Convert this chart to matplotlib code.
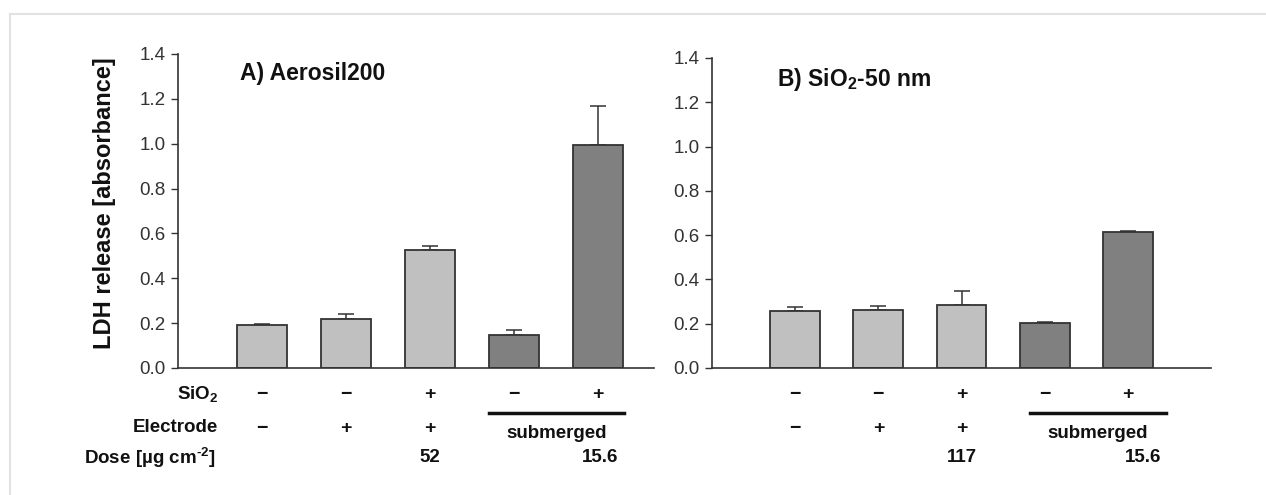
import numpy as np
import matplotlib
matplotlib.use("Agg")
import matplotlib.pyplot as plt
from matplotlib.lines import Line2D
import matplotlib.transforms as mtransforms

plt.rcParams['font.family'] = ['Liberation Sans', 'DejaVu Sans']
plt.rcParams['mathtext.fontset'] = 'custom'
plt.rcParams['mathtext.rm'] = 'Liberation Sans'
plt.rcParams['mathtext.bf'] = 'Liberation Sans:bold'

# data
conditions = ['ctrl', 'electrode', 'electrode+SiO2', 'submerged', 'submerged+SiO2']
aerosil_mean = [0.192, 0.219, 0.528, 0.148, 0.994]
aerosil_err = [0.006, 0.022, 0.015, 0.022, 0.172]
sio2_mean = [0.259, 0.260, 0.286, 0.203, 0.614]
sio2_err = [0.016, 0.022, 0.063, 0.006, 0.006]
bar_colors = ['#c0c0c0', '#c0c0c0', '#c0c0c0', '#808080', '#808080']

sio2_row = ['\u2212', '\u2212', '+', '\u2212', '+']
electrode_row = ['\u2212', '+', '+']
dose_a = '52'
dose_b = '117'
dose_sub = '15.6'

W, H = 1266, 495
fig = plt.figure(figsize=(W / 100, H / 100), dpi=100)

# light frame of the screenshot
fig.add_artist(Line2D([10 / W, 1], [1 - 14 / H, 1 - 14 / H], color='#e2e2e2', lw=1.5))
fig.add_artist(Line2D([10 / W, 10 / W], [0, 1 - 14 / H], color='#e2e2e2', lw=1.5))

edge = '#333333'


def panel(rect, means, errs, xlim, title, dose, line_span, label_rows):
    ax = fig.add_axes(rect)
    x = np.arange(len(means))
    ax.bar(x, means, width=0.6, color=bar_colors, edgecolor=edge, linewidth=1.3, zorder=2)
    ax.errorbar(x, means, yerr=[np.zeros(len(errs)), errs], fmt='none', ecolor=edge,
                elinewidth=1.1, capsize=6, capthick=1.1, zorder=1)
    ax.set_xlim(*xlim)
    ax.set_ylim(0, 1.4)
    ax.set_yticks(np.arange(0, 1.41, 0.2))
    ax.set_yticklabels([f'{v:.1f}' for v in np.arange(0, 1.41, 0.2)])
    ax.set_xticks([])
    for s in ['top', 'right']:
        ax.spines[s].set_visible(False)
    for s in ['left', 'bottom']:
        ax.spines[s].set_color(edge)
        ax.spines[s].set_linewidth(1.2)
    ax.tick_params(axis='y', direction='out', length=5, width=1, color=edge,
                   labelsize=13.5, labelcolor='#333333', pad=4)
    ax.text(0.13, 0.975, title, transform=ax.transAxes, fontsize=16.5,
            fontweight='bold', va='top', ha='left', color='#111111')

    tr = mtransforms.blended_transform_factory(ax.transData, fig.transFigure)
    kw = dict(transform=tr, fontsize=14, fontweight='bold', ha='center', va='center',
              color='#111111')
    for i, s in enumerate(sio2_row):
        ax.text(x[i], 1 - 395 / H, s, clip_on=False, **kw)
    for i, s in enumerate(electrode_row):
        ax.text(x[i], 1 - 428 / H, s, clip_on=False, **kw)
    ax.add_artist(Line2D(line_span, [1 - 413 / H] * 2, transform=tr, color='#111111',
                         lw=2.5, clip_on=False))
    mid = sum(line_span) / 2
    ax.text(mid, 1 - 433 / H, 'submerged', clip_on=False,
            **{**kw, 'fontsize': 13.5})
    ax.text(x[2], 1 - 458 / H, dose, clip_on=False, **{**kw, 'fontsize': 13.5})
    ax.text(line_span[1] - 0.06, 1 - 458 / H, dose_sub, clip_on=False,
            **{**kw, 'fontsize': 13.5, 'ha': 'right'})

    if label_rows:
        lk = dict(transform=fig.transFigure, fontsize=13.5, fontweight='bold',
                  ha='right', va='center', color='#111111')
        fig.text(218 / W, 1 - 395 / H, 'SiO$_\\mathbf{2}$', **lk)
        fig.text(218 / W, 1 - 428 / H, 'Electrode', **lk)
        fig.text(215 / W, 1 - 458 / H, 'Dose [\u00b5g cm$^\\mathbf{\u20102}$]', **lk)
    return ax


ax_a = panel([178 / W, 1 - 368 / H, 476 / W, 314 / H], aerosil_mean, aerosil_err,
             (-1.0, 4.67), 'A) Aerosil200', dose_a, [2.70, 4.31], True)
ax_a.set_ylabel('LDH release [absorbance]', fontsize=17, fontweight='bold',
                color='#111111')
ax_a.yaxis.set_label_coords(-0.13, 0.525)

ax_b = panel([712 / W, 1 - 368 / H, 499 / W, 310 / H], sio2_mean, sio2_err,
             (-1.0, 5.0), 'B) SiO$_\\mathbf{2}$-50 nm', dose_b, [2.82, 4.46], False)

fig.savefig('out.png', dpi=100)
